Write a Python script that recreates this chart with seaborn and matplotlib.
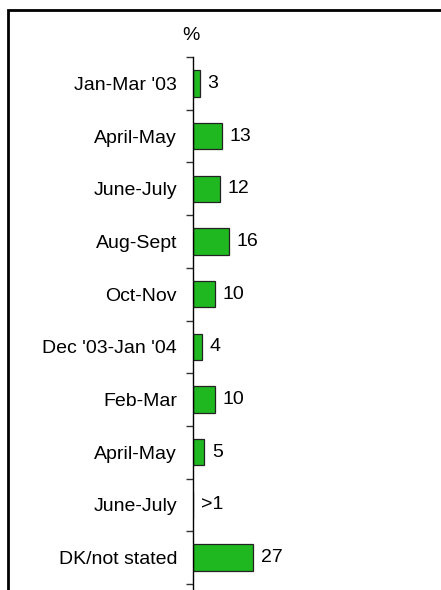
import pandas as pd
import seaborn as sns
import matplotlib.pyplot as plt
from matplotlib.patches import Rectangle

'''

data read off the chart

'''

periods = ["Jan-Mar '03", 'April-May', 'June-July', 'Aug-Sept', 'Oct-Nov',
           "Dec '03-Jan '04", 'Feb-Mar', 'April-May', 'June-July', 'DK/not stated']
values = [3, 13, 12, 16, 10, 4, 10, 5, 0, 27]
value_labels = ['3', '13', '12', '16', '10', '4', '10', '5', '>1', '27']

df = pd.DataFrame({'slot': range(len(periods)), 'pct': values})

sns.set_style('white')
plt.rcParams['font.family'] = ['Liberation Sans', 'DejaVu Sans']
plt.rcParams['text.color'] = 'black'
plt.rcParams['ytick.color'] = 'black'

fig = plt.figure(figsize=(4.41, 5.90), dpi=100)
ax = fig.add_axes([193 / 441, 1 - 584 / 590, 222 / 441, 527 / 590])

sns.barplot(data=df, x='pct', y='slot', orient='h', order=list(range(len(periods))),
            color='#20b820', saturation=1, width=0.5,
            edgecolor='#222222', linewidth=0.9, ax=ax)

for i, (v, lab) in enumerate(zip(values, value_labels)):
    ax.text(v + 3.5, i, lab, va='center', ha='left', fontsize=14)

ax.set_xlim(0, 100)
ax.set_ylim(len(periods) - 0.5, -0.5)
ax.set_xlabel('')
ax.set_ylabel('')
ax.set_xticks([])
ax.set_yticks(range(len(periods)))
ax.set_yticklabels(periods, fontsize=14)
ax.set_yticks([i - 0.5 for i in range(len(periods) + 1)], minor=True)
ax.tick_params(axis='y', which='major', length=0, pad=11.5)
ax.tick_params(axis='y', which='minor', length=5, width=1, color='#333333', left=True)
for side in ['top', 'right', 'bottom']:
    ax.spines[side].set_visible(False)
ax.spines['left'].set_color('black')
ax.spines['left'].set_linewidth(1)
# axis line runs on past the last tick to the bottom edge
ax.spines['left'].set_bounds(-0.5, len(periods) - 0.5 + 0.15)

ax.text(-0.01, 1.04, '%', transform=ax.transAxes, ha='center', va='center', fontsize=14)

# outer frame running off the right and bottom edges
fig.patches.append(Rectangle((8 / 441, -0.1), 1.2, 1.1 - 10 / 590,
                             transform=fig.transFigure, fill=False,
                             edgecolor='black', linewidth=2))

plt.savefig('out.png', dpi=100)
plt.close()
